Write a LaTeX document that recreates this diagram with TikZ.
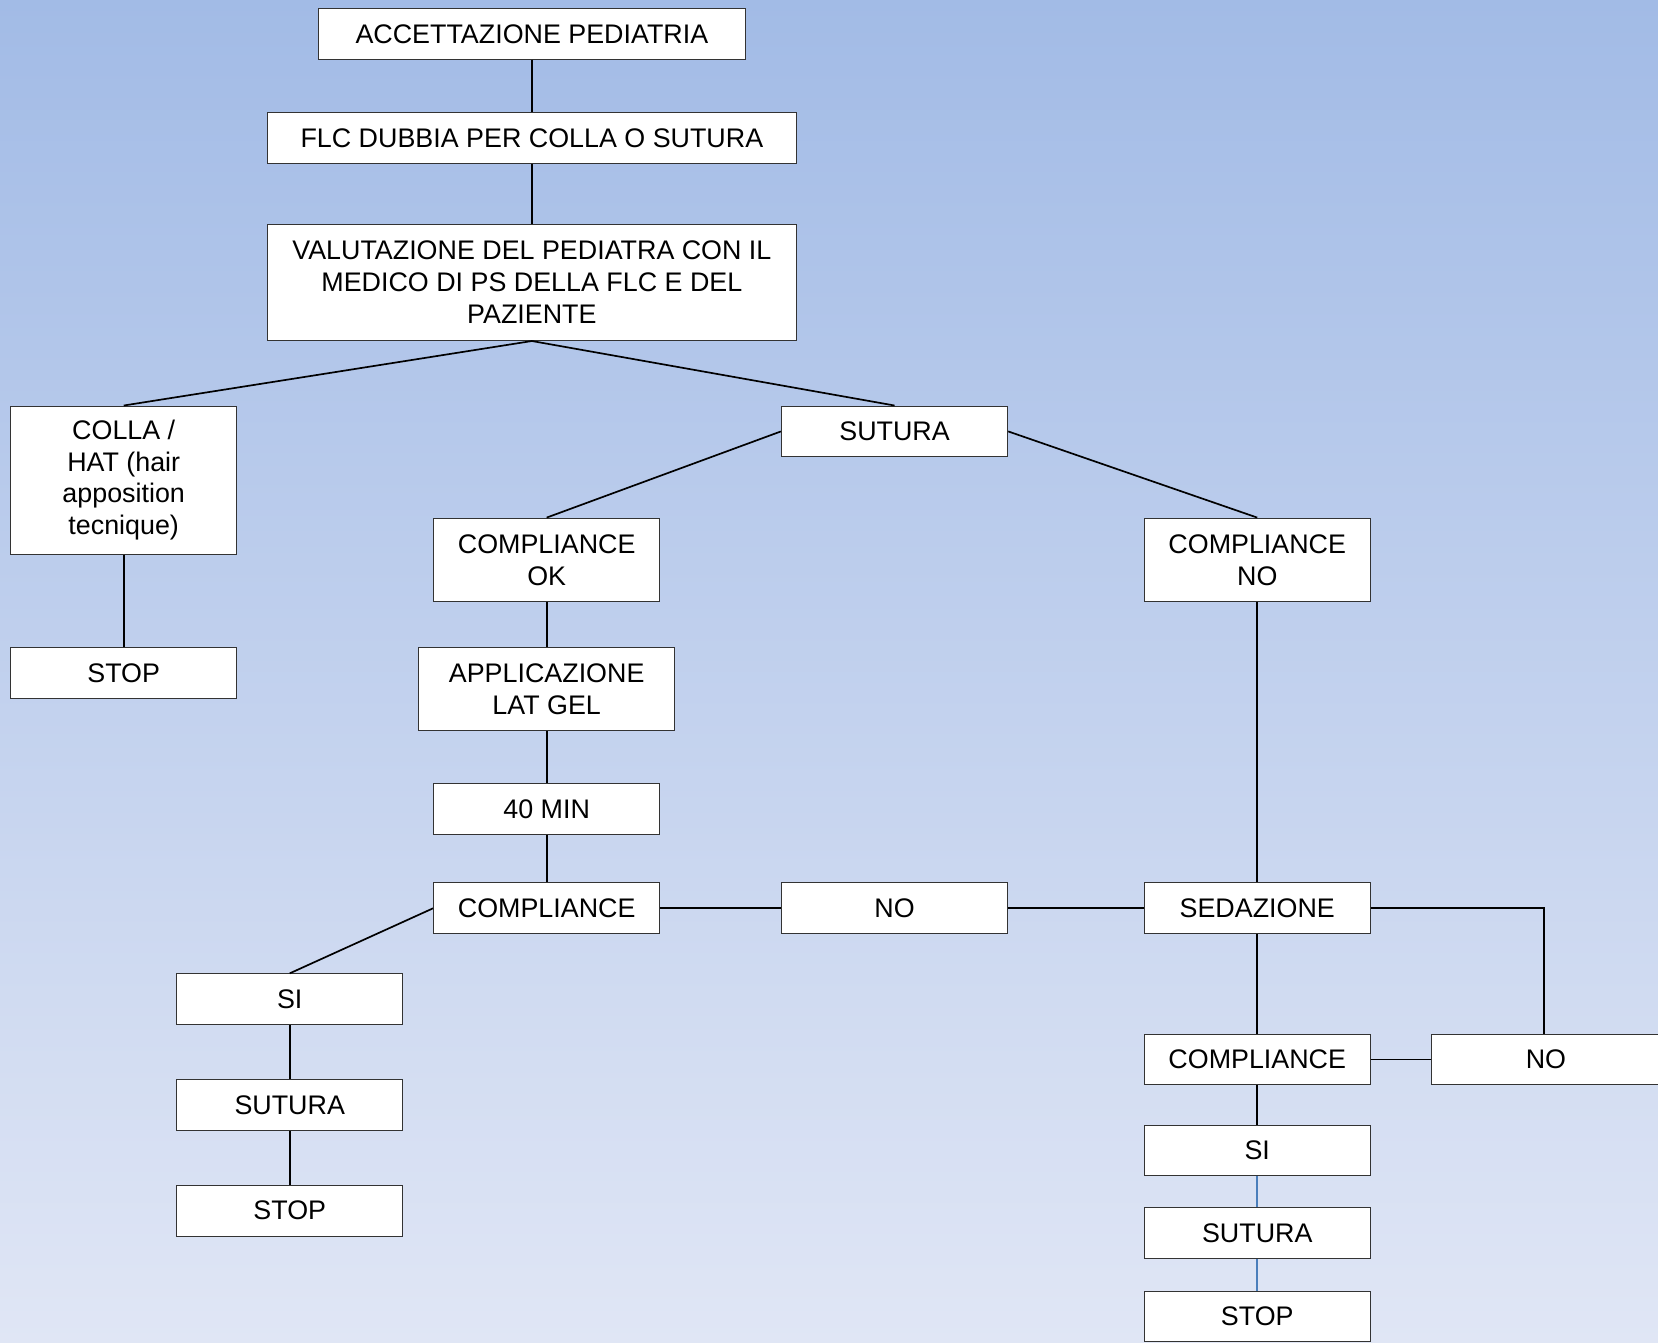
\documentclass[tikz,border=0pt]{standalone}
\usepackage{fontspec}
\setmainfont{Liberation Sans}
\usepackage{tikz}
\definecolor{bgtop}{RGB}{162,187,230}
\definecolor{bgbottom}{RGB}{224,230,245}
\definecolor{linkblue}{RGB}{74,126,187}
\begin{document}
\begin{tikzpicture}[x=0.5pt,y=0.5pt]
        \tikzstyle{every node}=[draw=black!80,fill=white,line width=0.5pt,inner sep=0pt,align=center,minimum height=24pt,minimum width=107pt,font=\fontsize{12.7}{15}\selectfont]
        \tikzstyle{link}=[line width=0.8pt,black]
        \tikzstyle{bluelink}=[line width=0.8pt,linkblue]
        \shade[top color=bgtop,bottom color=bgbottom,draw=none] (0,0) rectangle (1568,-1270);
        \useasboundingbox (0,0) rectangle (1568,-1270);
        \node[minimum width=202pt] (accettazione) at (503,-32) {ACCETTAZIONE PEDIATRIA};
        \node[minimum width=250pt] (dubbia) at (503,-130.5) {FLC DUBBIA PER COLLA O SUTURA};
        \node[minimum width=250pt,minimum height=55pt] (valutazione) at (503,-267) {VALUTAZIONE DEL PEDIATRA CON IL\\MEDICO DI PS DELLA FLC E DEL\\PAZIENTE};
        \node[minimum height=70pt] (colla) at (117,-454) {COLLA /\\HAT (hair\\apposition\\tecnique)};
        \node (stopcolla) at (117,-636.5) {STOP};
        \node (sutura) at (846,-408) {SUTURA};
        \node[minimum height=39.5pt] (complok) at (517,-529.5) {COMPLIANCE\\OK};
        \node[minimum height=39.5pt] (complno) at (1189,-529.5) {COMPLIANCE\\NO};
        \node[minimum width=121pt,minimum height=39.5pt] (latgel) at (517,-651.5) {APPLICAZIONE\\LAT GEL};
        \node (attesa) at (517,-765) {40 MIN};
        \node (compl) at (517,-859) {COMPLIANCE};
        \node (nocompl) at (846,-859) {NO};
        \node (sedazione) at (1189,-859) {SEDAZIONE};
        \node (sisx) at (274,-945) {SI};
        \node (suturasx) at (274,-1045) {SUTURA};
        \node (stopsx) at (274,-1145) {STOP};
        \node (complsed) at (1189,-1002) {COMPLIANCE};
        \node[minimum width=108pt] (nosed) at (1462,-1002) {NO};
        \node (sidx) at (1189,-1088) {SI};
        \node (suturadx) at (1189,-1166) {SUTURA};
        \node (stopdx) at (1189,-1245) {STOP};
        \draw[link] (accettazione) -- (dubbia);
        \draw[link] (dubbia) -- (valutazione);
        \draw[link] (valutazione.south) -- (colla.north);
        \draw[link] (valutazione.south) -- (sutura.north);
        \draw[link] (colla) -- (stopcolla);
        \draw[link] (sutura.west) -- (complok.north);
        \draw[link] (sutura.east) -- (complno.north);
        \draw[link] (complok) -- (latgel);
        \draw[link] (latgel) -- (attesa);
        \draw[link] (attesa) -- (compl);
        \draw[link] (compl) -- (nocompl);
        \draw[link] (nocompl) -- (sedazione);
        \draw[link] (compl.west) -- (sisx.north);
        \draw[link] (sisx) -- (suturasx);
        \draw[link] (suturasx) -- (stopsx);
        \draw[link] (complno) -- (sedazione);
        \draw[link] (sedazione.east) -| ([xshift=-1]nosed.north);
        \draw[link] (sedazione) -- (complsed);
        \draw[link] (complsed) -- (nosed);
        \draw[link] (complsed) -- (sidx);
        \draw[bluelink] (sidx) -- (suturadx);
        \draw[bluelink] (suturadx) -- (stopdx);
    \end{tikzpicture}
\end{document}
